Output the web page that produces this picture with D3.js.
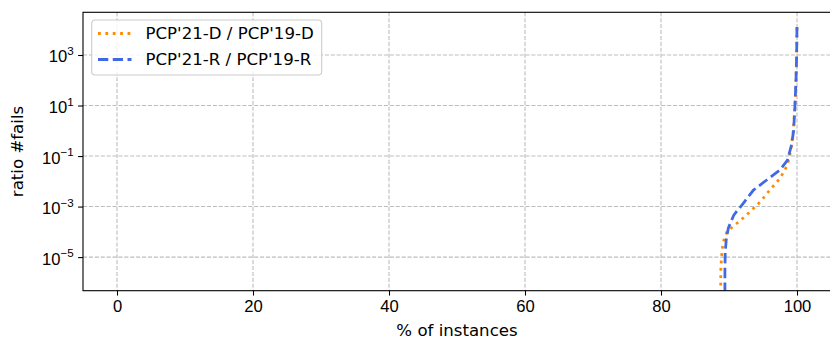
<!DOCTYPE html>
<html>
<head>
<meta charset="utf-8">
<script src="https://cdn.jsdelivr.net/npm/d3@7"></script>
<style>
  body { margin: 0; background: #fff; }
  svg { font-family: "DejaVu Sans", sans-serif; }
  .grid line { stroke: #bdbdbd; stroke-width: 1.1; stroke-dasharray: 4.1,1.8; }
  .axis path, .axis line { stroke: #000; stroke-width: 1.1; }
  .axis text { font-size: 16.6px; fill: #000; }
</style>
</head>
<body>
<svg id="myGraph" width="830" height="339"></svg>
<script>
// % of instances vs ratio of fails
var seriesNames = ["PCP'21-D / PCP'19-D", "PCP'21-R / PCP'19-R"];
var seriesColors = ["#ff8c00", "#4169e1"];

var dX = [88.75, 88.8, 88.9, 89.05, 89.3, 89.7, 90.3, 91.0, 91.8, 93.1, 94.6, 96.0, 97.5, 98.6, 99.1, 99.45, 99.7, 99.85, 99.95, 100];
var dY = [1e-7, 3.2e-6, 1e-5, 2.5e-5, 5.6e-5, 1e-4, 1.4e-4, 2e-4, 3e-4, 6.3e-4, 1.55e-3, 4.5e-3, 1.3e-2, 4.4e-2, 0.17, 1, 10, 100, 1000, 16000];

var rX = [89.4, 89.4, 89.45, 89.6, 89.9, 90.7, 92.1, 93.6, 95.5, 97.5, 98.6, 99.2, 99.5, 99.7, 99.85, 99.95, 100];
var rY = [1e-7, 3.2e-6, 1.6e-5, 5e-5, 1.4e-4, 4.6e-4, 1.35e-3, 4.5e-3, 1.1e-2, 2.8e-2, 6.9e-2, 0.28, 1, 10, 100, 1000, 16000];

var xTicks = [0, 20, 40, 60, 80, 100];
var yTickExps = [-5, -3, -1, 1, 3];

var pLeft = 83, pRight = 831, pTop = 12.3, pBottom = 290.7;

var svg = d3.select("#myGraph");

var x = d3.scaleLinear().domain([-5, 105]).range([pLeft, pRight]);
var y = d3.scaleLog().domain([Math.pow(10, -6.33), Math.pow(10, 4.69)]).range([pBottom, pTop]);

var yTicks = yTickExps.map(function(e){ return Math.pow(10, e); });

//grid
var grid = svg.append("g").attr("class", "grid");
grid.selectAll(".gx").data(xTicks).enter().append("line")
  .attr("x1", function(d){ return x(d); })
  .attr("x2", function(d){ return x(d); })
  .attr("y1", pTop).attr("y2", pBottom);
grid.selectAll(".gy").data(yTicks).enter().append("line")
  .attr("x1", pLeft).attr("x2", pRight)
  .attr("y1", function(d){ return y(d); })
  .attr("y2", function(d){ return y(d); });

//lines
svg.append("clipPath").attr("id", "clip")
  .append("rect").attr("x", pLeft).attr("y", pTop)
  .attr("width", pRight - pLeft).attr("height", pBottom - pTop);

var line = d3.line()
  .x(function(d){ return x(d[0]); })
  .y(function(d){ return y(d[1]); });

var plot = svg.append("g").attr("clip-path", "url(#clip)");
plot.append("path")
  .datum(d3.zip(dX, dY))
  .attr("d", line)
  .attr("fill", "none")
  .attr("stroke", seriesColors[0])
  .attr("stroke-width", 2.78)
  .attr("stroke-dasharray", "2.78,4.6");
plot.append("path")
  .datum(d3.zip(rX, rY))
  .attr("d", line)
  .attr("fill", "none")
  .attr("stroke", seriesColors[1])
  .attr("stroke-width", 2.78)
  .attr("stroke-dasharray", "10.3,4.45");

//axes
var xAxis = svg.append("g").attr("class", "axis")
  .attr("transform", "translate(0," + pBottom + ")")
  .call(d3.axisBottom(x).tickValues(xTicks).tickSize(4.9).tickPadding(4.5).tickSizeOuter(0));
xAxis.select(".domain").remove();

var yAxis = svg.append("g").attr("class", "axis")
  .attr("transform", "translate(" + pLeft + ",0)")
  .call(d3.axisLeft(y).tickValues(yTicks).tickSize(4.9).tickPadding(4.5).tickSizeOuter(0));
yAxis.select(".domain").remove();
yAxis.selectAll(".tick text")
  .text(null)
  .attr("dy", "0.42em")
  .each(function(d, i){
    var t = d3.select(this);
    t.append("tspan").text("10");
    t.append("tspan")
      .attr("dy", "-0.62em")
      .attr("font-size", "11.6px")
      .text(String(yTickExps[i]).replace("-", "\u2212"));
  });

//frame
svg.append("rect")
  .attr("x", pLeft).attr("y", pTop)
  .attr("width", pRight - pLeft).attr("height", pBottom - pTop)
  .attr("fill", "none").attr("stroke", "#000").attr("stroke-width", 1.1);

//labels
svg.append("text")
  .attr("x", (pLeft + pRight) / 2).attr("y", 336.3)
  .attr("text-anchor", "middle").attr("font-size", "16.6px")
  .text("% of instances");
svg.append("text")
  .attr("transform", "translate(22.5," + ((pTop + pBottom) / 2) + ") rotate(-90)")
  .attr("text-anchor", "middle").attr("font-size", "16.6px")
  .text("ratio #fails");

//legend
var legend = svg.append("g");
legend.append("rect")
  .attr("x", 91.7).attr("y", 20).attr("width", 230).attr("height", 55)
  .attr("rx", 3.5)
  .attr("fill", "#fff").attr("fill-opacity", 0.8)
  .attr("stroke", "#cccccc").attr("stroke-width", 1.1);
var dashes = ["2.78,4.6", "10.3,4.45"];
var items = legend.selectAll(".item").data(seriesNames).enter().append("g")
  .attr("transform", function(d, i){ return "translate(0," + (33.5 + i * 26) + ")"; });
items.append("line")
  .attr("x1", 98).attr("x2", 131.5)
  .attr("stroke", function(d, i){ return seriesColors[i]; })
  .attr("stroke-width", 2.78)
  .attr("stroke-dasharray", function(d, i){ return dashes[i]; });
items.append("text")
  .attr("x", 145.5).attr("dy", "0.36em")
  .attr("font-size", "16.6px")
  .text(function(d){ return d; });
</script>
</body>
</html>
